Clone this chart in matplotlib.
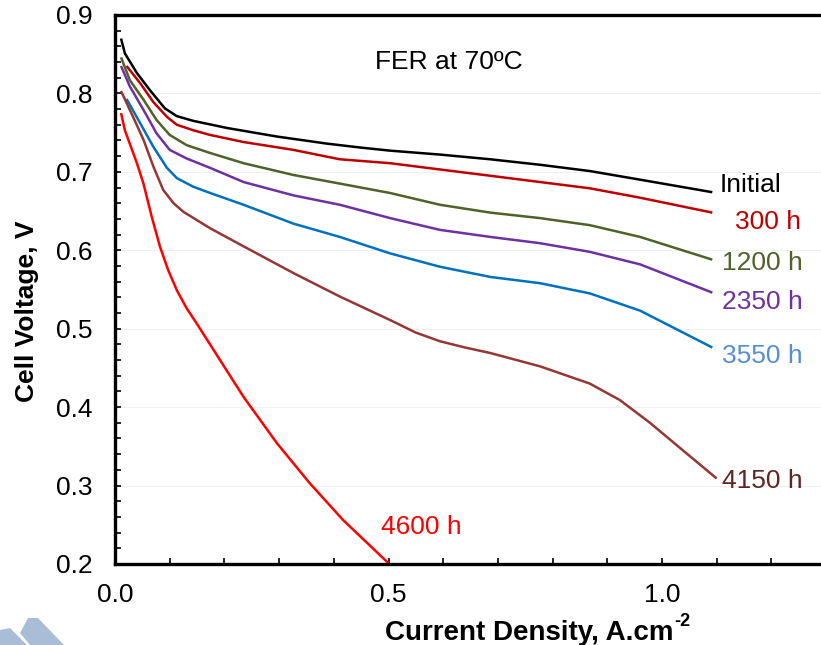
import matplotlib
matplotlib.use("Agg")
import matplotlib.pyplot as plt
from matplotlib.patches import Polygon
from matplotlib.ticker import MultipleLocator, FormatStrFormatter

plt.rcParams['font.family'] = ['Liberation Sans', 'DejaVu Sans']

# polarization curves (A/cm2, V)
x_init = [0.011, 0.018, 0.040, 0.064, 0.091, 0.113, 0.143, 0.204, 0.296, 0.387, 0.448,
          0.503, 0.594, 0.686, 0.777, 0.868, 0.96, 1.092]
v_init = [0.870, 0.851, 0.826, 0.804, 0.781, 0.771, 0.765, 0.756, 0.745, 0.736, 0.731,
          0.727, 0.722, 0.716, 0.709, 0.701, 0.690, 0.674]

x_300 = [0.021, 0.046, 0.070, 0.095, 0.113, 0.143, 0.174, 0.235, 0.326, 0.411,
         0.503, 0.594, 0.686, 0.777, 0.868, 0.96, 1.092]
v_300 = [0.835, 0.813, 0.789, 0.770, 0.760, 0.753, 0.747, 0.738, 0.728, 0.716,
         0.711, 0.703, 0.695, 0.687, 0.679, 0.667, 0.648]

x_1200 = [0.011, 0.027, 0.052, 0.076, 0.1, 0.131, 0.174, 0.235, 0.326, 0.411,
          0.503, 0.594, 0.686, 0.777, 0.868, 0.96, 1.092]
v_1200 = [0.846, 0.817, 0.792, 0.766, 0.747, 0.734, 0.724, 0.711, 0.696, 0.685,
          0.673, 0.658, 0.648, 0.641, 0.632, 0.617, 0.588]

x_2350 = [0.011, 0.027, 0.052, 0.076, 0.1, 0.131, 0.174, 0.235, 0.326, 0.411,
          0.503, 0.594, 0.686, 0.777, 0.868, 0.96, 1.092]
v_2350 = [0.835, 0.809, 0.779, 0.749, 0.728, 0.717, 0.705, 0.687, 0.670, 0.658,
          0.641, 0.626, 0.617, 0.609, 0.598, 0.582, 0.546]

x_3550 = [0.021, 0.046, 0.070, 0.095, 0.113, 0.143, 0.174, 0.235, 0.326, 0.411,
          0.503, 0.594, 0.686, 0.777, 0.868, 0.96, 1.092]
v_3550 = [0.793, 0.762, 0.732, 0.705, 0.692, 0.681, 0.673, 0.658, 0.634, 0.617,
          0.596, 0.579, 0.566, 0.558, 0.545, 0.523, 0.476]

x_4150 = [0.011, 0.033, 0.052, 0.070, 0.088, 0.107, 0.125, 0.174, 0.235, 0.326, 0.411,
          0.503, 0.55, 0.594, 0.64, 0.686, 0.777, 0.868, 0.923, 0.978, 1.038, 1.10]
v_4150 = [0.803, 0.770, 0.741, 0.707, 0.677, 0.660, 0.649, 0.628, 0.605, 0.571, 0.541,
          0.511, 0.495, 0.484, 0.476, 0.469, 0.452, 0.430, 0.409, 0.380, 0.345, 0.309]

x_4600 = [0.011, 0.018, 0.040, 0.052, 0.067, 0.082, 0.097, 0.113, 0.131, 0.149, 0.192,
          0.235, 0.265, 0.296, 0.356, 0.417, 0.5]
v_4600 = [0.775, 0.753, 0.711, 0.685, 0.643, 0.605, 0.575, 0.549, 0.526, 0.507, 0.460,
          0.413, 0.384, 0.354, 0.303, 0.256, 0.201]

labels = ['Initial', '300 h', '1200 h', '2350 h', '3550 h', '4150 h', '4600 h']
line_colors = ['#000000', '#c00000', '#4f6228', '#7030a0', '#0070c0', '#953735', '#ff0000']
text_colors = ['#000000', '#c00000', '#4f6228', '#7030a0', '#558ed5', '#632523', '#ff0000']
label_x = [1.106, 1.133, 1.110, 1.110, 1.110, 1.110, 0.486]
label_y = [0.683, 0.636, 0.584, 0.534, 0.465, 0.306, 0.247]

series = [(x_init, v_init), (x_300, v_300), (x_1200, v_1200), (x_2350, v_2350),
          (x_3550, v_3550), (x_4150, v_4150), (x_4600, v_4600)]

fig = plt.figure(figsize=(8.21, 6.45), dpi=100)
ax = fig.add_axes([0.1401, 0.1256, 0.8661, 0.8512])

for (xs, ys), c in zip(series, line_colors):
    ax.plot(xs, ys, color=c, lw=1.8, solid_joinstyle='round', solid_capstyle='butt')

for lab, c, lx, ly in zip(labels, text_colors, label_x, label_y):
    ax.text(lx, ly, lab, color=c, fontsize=19, ha='left', va='center')

ax.text(0.475, 0.840, 'FER at 70ºC', fontsize=19, ha='left', va='center')

ax.set_xlim(0, 1.3)
ax.set_ylim(0.2, 0.9)
ax.xaxis.set_major_locator(MultipleLocator(0.5))
ax.xaxis.set_minor_locator(MultipleLocator(0.1))
ax.yaxis.set_major_locator(MultipleLocator(0.1))
ax.yaxis.set_minor_locator(MultipleLocator(0.02))
ax.xaxis.set_major_formatter(FormatStrFormatter('%.1f'))
ax.yaxis.set_major_formatter(FormatStrFormatter('%.1f'))
ax.tick_params(which='both', direction='in', length=4, width=1.2, labelsize=19)
ax.tick_params(axis='x', which='both', top=False, pad=14)
ax.tick_params(axis='y', which='both', right=False, pad=16)
ax.grid(axis='y', which='major', color='#f0f0f0', lw=0.8)
ax.set_axisbelow(True)

for s in ['left', 'bottom', 'top']:
    ax.spines[s].set_linewidth(2.4)
ax.spines['right'].set_visible(False)

# x label with a plain "-2" superscript
xl = fig.text(385 / 821, 1 - 640 / 645, 'Current Density, A.cm', fontsize=20,
              fontweight='bold', ha='left', va='baseline')
fig.canvas.draw()
bb = xl.get_window_extent()
fig.text(bb.x1 / 821 + 0.001, 1 - 626 / 645, '-2', fontsize=13, fontweight='bold',
         ha='left', va='baseline')

fig.text(27 / 821, 1 - 311 / 645, 'Cell Voltage, V', fontsize=19, fontweight='bold',
         rotation=90, ha='center', va='center')

# faint logo shapes in the lower left corner
H = 645
for pts in ([(0, 630), (10, 628), (27, 645), (0, 645)],
            [(20, 633), (28, 618), (38, 618), (64, 645), (30, 645)]):
    fig.patches.append(Polygon([(px / 821, 1 - py / H) for px, py in pts],
                               closed=True, transform=fig.transFigure,
                               facecolor='#a9bed6', edgecolor='none'))

fig.savefig('out.png', dpi=100)
